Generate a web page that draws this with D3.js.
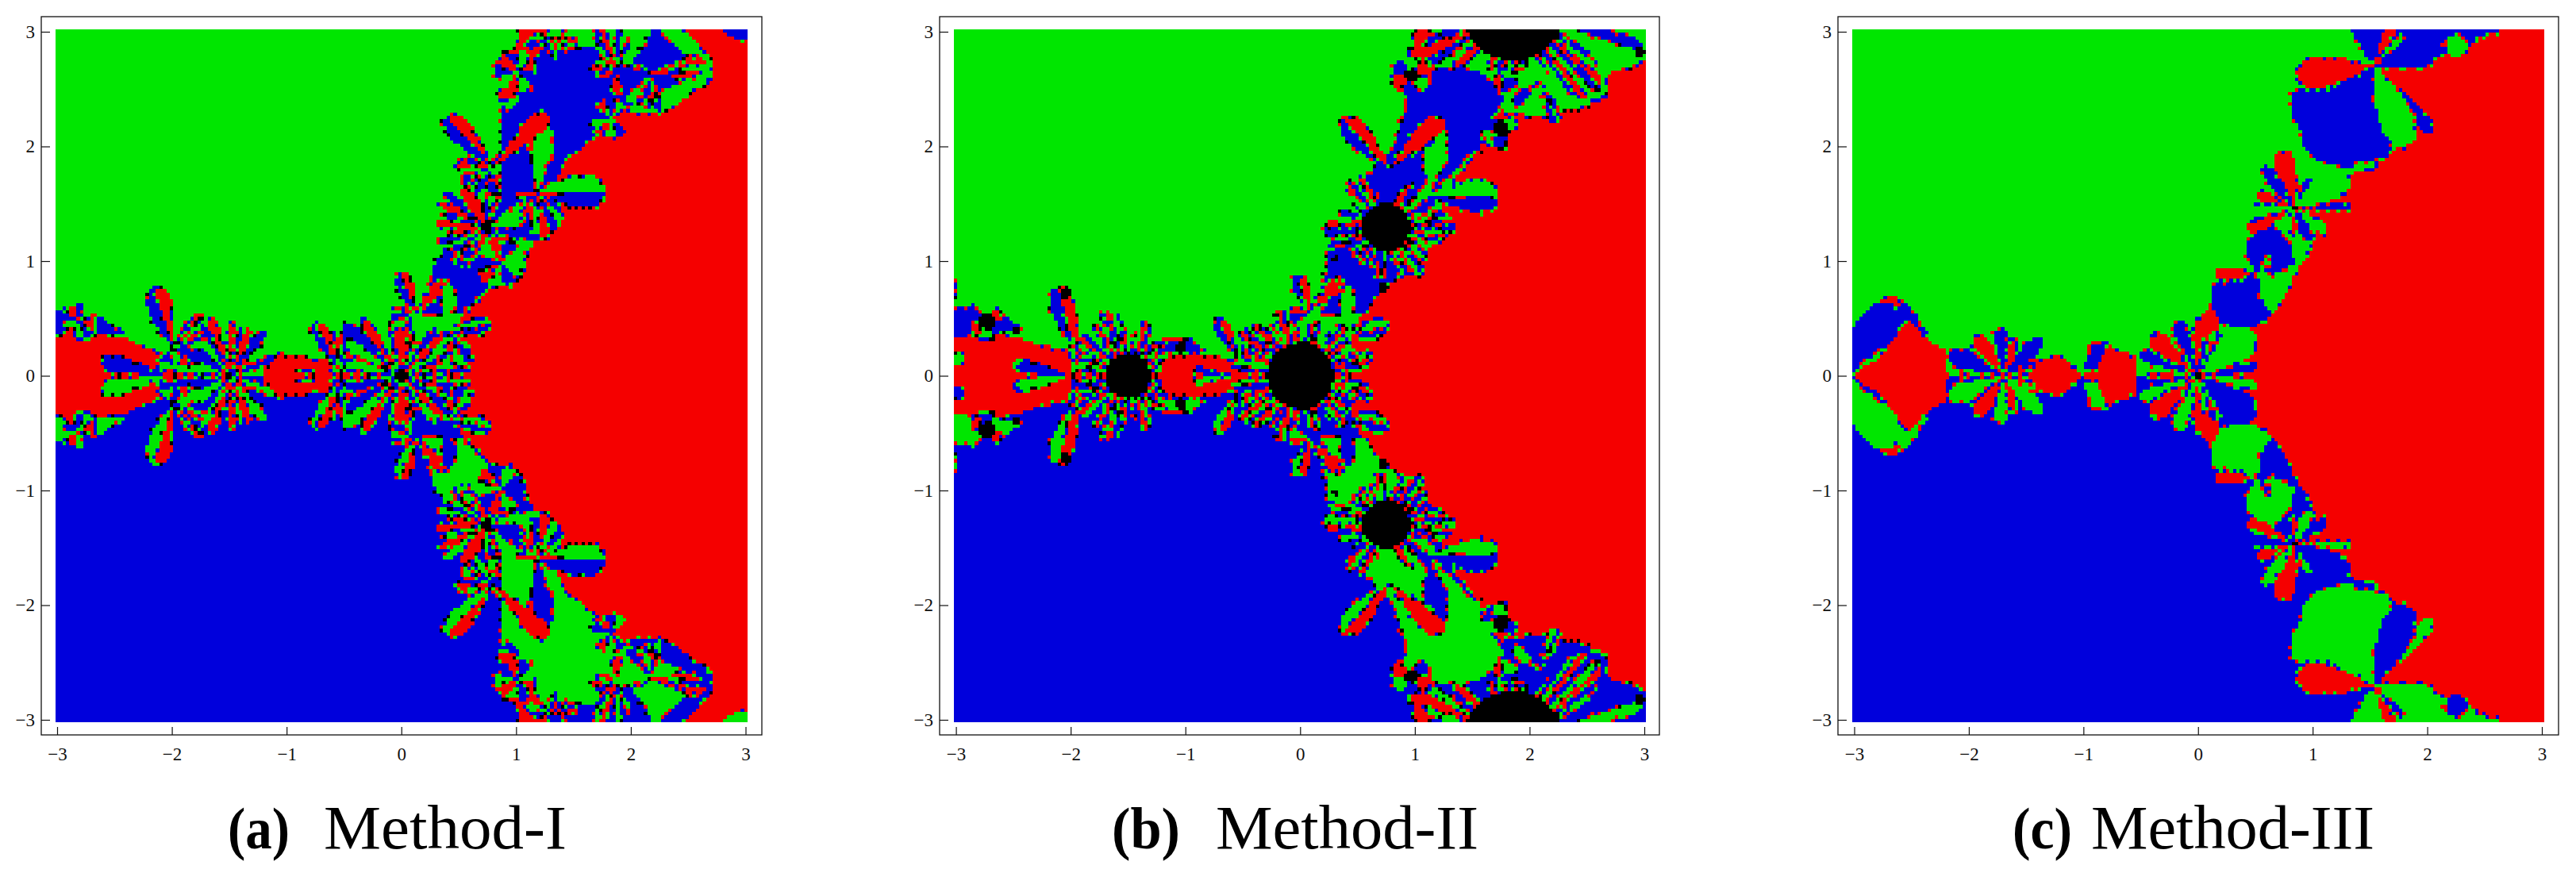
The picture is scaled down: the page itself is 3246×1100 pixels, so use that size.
<!DOCTYPE html>
<html><head><meta charset="utf-8">
<script src="https://cdn.jsdelivr.net/npm/d3@7/dist/d3.min.js"></script>
<style>html,body{margin:0;background:#fff}svg{display:block}</style></head>
<body><svg id="c" width="3246" height="1100"></svg>
<script>
// Values, upper half (y >= 0); the lower half of each basin plot is its mirror with green and blue swapped.
const tickValues = [-3,-2,-1,0,1,2,3];
const captions = [["(a)","Method-I"],["(b)","Method-II"],["(c)","Method-III"]];
const palette = {r:"#f50000", g:"#00e600", b:"#0000dc", k:"#000000"};

const regionsA = [
 ["b",[[.19,.55],[.28,.95],[.5,1.3],[.55,1.7],[.88,1.96],[.89,2.38],[.97,2.47],[1.16,2.77],[1.3,2.9],[1.7,2.85],[2,2.7],[2.2,3.02],[2.75,3.02],[2.75,2.7],[2,2.35],[1.72,2.1],[1.45,1.8],[1.25,1.65],[1,1.1],[.75,.75],[.55,.55]]],
 ["r",[[.4,0],[.4,.3],[.55,.55],[.77,.76],[1.11,1.04],[1.25,1.5],[1.43,1.87],[1.8,2.17],[1.99,2.28],[2.33,2.31],[2.73,2.6],[2.73,2.75],[2.4,3.02],[3.02,3.02],[3.02,0]]],
 ["g",[[2.45,3.02],[2.73,2.75],[2.7,2.65],[2.57,2.68],[2.27,3.0],[2.3,3.02]]],
 ["b",[[2.77,3.02],[2.85,2.95],[3.02,2.92],[3.02,3.02]]],
 ["r",[[1.03,3.02],[1,2.82],[1.16,2.77],[1.25,2.9],[1.3,3.02]]],
 ["r",[[-3.02,0],[-3.02,.36],[-2.62,.37],[-2.39,.32],[-2.17,.23],[-2.03,.21],[-2,0]]],
 ["b",[[-3.02,.36],[-3.02,.58],[-2.88,.6],[-2.65,.53],[-2.39,.37],[-2.62,.37]]],
 ["r",[[-1.2,0],[-1.2,.16],[-1.05,.2],[-.85,.17],[-.6,.14],[-.6,0]]]
];
const fansA = [
 [-2.8,.47,[[0,360,.15,"rgbrbgrgbr"]]],
 [-2,0,[[158,178,.62,"b"],[177,180,.62,"r"]]],
 [-1.98,.22,[[-30,10,.35,"b"],[20,70,.42,"brgrb"],[88,127,.58,"rb"]]],
 [-1.98,.08,[[0,360,.13,"rgbgrbg"]]],
 [-1.5,0,[[3,15,.3,"g"],[15,30,.42,"b"],[30,45,.42,"g"],[45,60,.5,"b"],[60,72,.45,"r"],[72,80,.45,"b"],[80,92,.48,"r"],[92,100,.48,"g"],[100,112,.52,"r"],[112,122,.5,"b"],[122,135,.4,"g"],[135,155,.32,"b"],[155,170,.3,"g"],[170,177,.3,"b"],[177,180,.45,"r"],[0,3,.3,"r"]]],
 [-.55,.05,[[100,130,.46,"rb"]]],
 [-.5,.06,[[70,112,.42,"rbgb"]]],
 [-.55,0,[[168,177,.36,"b"],[177,180,.36,"r"]]],
 [0,0,[[3,9,.63,"b"],[9,20,.65,"g"],[20,27,.5,"b"],[27,38,.45,"g"],[38,50,.5,"r"],[50,60,.5,"b"],[60,70,.45,"g"],[70,78,.4,"b"],[78,100,.52,"r"],[100,108,.5,"b"],[108,118,.55,"g"],[118,130,.6,"r"],[130,143,.63,"b"],[143,155,.55,"g"],[155,162,.5,"r"],[160,172,.5,"g"],[172,177,.5,"b"],[177,180,.9,"r"],[0,3,.3,"r"]]],
 [.11,.555,[[85,130,.36,"rb"],[30,58,.42,"r"],[150,260,.2,"rbgb"]]],
 [.42,.38,[[-8,35,.37,"bg"],[75,105,.42,"g"],[-95,-30,.32,"rgbg"],[180,250,.2,"brg"]]],
 [.743,1.293,[[-16,-2,.58,"b"],[-2,40,.55,"g"],[50,65,.4,"b"],[65,75,.38,"r"],[75,90,.3,"g"],[95,135,.42,"r"],[135,145,.48,"b"],[145,158,.45,"r"],[158,168,.42,"b"],[168,180,.45,"r"],[180,215,.42,"rbg"],[215,250,.43,"rgbgr"],[250,290,.3,"rgb"],[290,340,.5,"bgrg"]]],
 [.86,.99,[[0,360,.22,"gbrgbrgbg"]]],
 [1.18,1.61,[[-25,25,.6,"bg"],[-125,-30,.4,"rbgrbgb"],[64,100,.58,"g"],[150,210,.2,"br"]]],
 [.8,1.82,[[115,150,.6,"rb"],[35,55,.66,"r"],[150,215,.33,"rbrgbg"],[215,260,.3,"gbr"]]],
 [.87,1.75,[[0,360,.1,"bgrb"]]],
 [1,2.65,[[0,360,.19,"rgbrbgrgb"]]],
 [.93,2.42,[[0,360,.09,"rg"]]],
 [1.83,2.24,[[0,360,.17,"rgbrbgrgbr"]]],
 [2.16,2.64,[[-100,-60,.36,"bgbr"],[-10,30,.5,"rgrb"],[120,200,.15,"grb"],[200,255,.32,"bg"]]],
 [1.87,2.68,[[58,137,.4,"rgbgrbg"],[130,230,.2,"rgrgb"],[-100,-70,.25,"r"]]],
 [1.366,2.95,[[170,220,.28,"gbr"],[230,310,.19,"grbr"],[-30,60,.2,"rgb"]]]
];
const discsA = [[0,0,.05],[-1.5,0,.04],[.743,1.293,.05],[1.18,1.61,.02],[.8,1.82,.015],[2.16,2.64,.02],[-1.98,.22,.02]];

const regionsB = [
 ["b",[[.19,.55],[.24,1.06],[.5,1.3],[.55,1.7],[.82,1.98],[.96,2.49],[1.07,2.61],[1.26,2.75],[1.6,2.63],[1.79,2.42],[1.7,2.26],[1.56,1.98],[1.26,1.71],[1,1.1],[.75,.75],[.55,.55]]],
 ["r",[[.45,0],[.45,.4],[.6,.6],[.75,.77],[1.1,1.05],[1.2,1.3],[1.25,1.6],[1.56,1.98],[1.7,2.26],[1.85,2.3],[2.1,2.25],[2.5,2.35],[2.69,2.47],[2.69,2.63],[2.9,2.7],[3.02,2.75],[3.02,0]]],
 ["g",[[1.79,2.54],[2.02,2.49],[1.97,2.28],[1.77,2.28]]],
 ["r",[[.95,2.72],[1,3],[1.2,3.02],[1.2,2.75]]],
 ["r",[[-3.02,0],[-3.02,.33],[-2.65,.38],[-2.3,.28],[-2,.22],[-2,0]]],
 ["b",[[-3.02,.33],[-3.02,.58],[-2.85,.62],[-2.6,.55],[-2.4,.39],[-2.65,.38]]],
 ["b",[[-3.02,.7],[-2.99,.7],[-2.99,.84],[-3.02,.84]]],
 ["b",[[-1.24,.2],[-1.15,.33],[-.95,.33],[-.8,.2]]],
 ["r",[[-1.2,0],[-1.2,.16],[-.9,.2],[-.56,.14],[-.56,0]]]
];
const fansB = [
 [-2.98,.15,[[0,360,.06,"g"]]],
 [-2.73,.47,[[0,360,.15,"rgbrgb"]]],
 [-2,0,[[158,178,.48,"b"],[177,180,.6,"r"]]],
 [-1.95,.21,[[88,125,.6,"rb"],[-60,10,.3,"rgb"]]],
 [-1.5,0,[[0,5,.6,"r"],[5,30,.29,"rgbrgb"],[30,55,.46,"rbgrb"],[55,85,.5,"gbrgb"],[90,130,.62,"rbgrbgrb"],[130,160,.6,"gbrgbr"],[150,180,.52,"rgbrgbr"],[176,180,.55,"r"]]],
 [-.54,.15,[[100,135,.4,"rb"]]],
 [-.55,0,[[165,178,.38,"b"],[177,180,.38,"r"]]],
 [0,0,[[0,32,.66,"rgbrgbrgb"],[32,60,.6,"rbgrbgr"],[85,125,.6,"gbrgbrgbr"],[115,170,.63,"rgbrgbrgbrgb"],[165,180,.6,"gbr"],[60,85,.5,"gbrg"]]],
 [.08,.56,[[85,130,.34,"rb"],[30,58,.42,"r"],[150,260,.18,"rbg"]]],
 [.42,.36,[[-8,35,.37,"bg"],[75,105,.42,"g"]]],
 [.75,1.293,[[-25,25,.6,"rgbrgbrgbrg"],[-80,-25,.52,"rgbrgbrgbr"],[-120,-80,.45,"gbrgb"],[150,220,.53,"rbgrbgrbg"],[100,150,.52,"gbrgbrgb"],[220,240,.4,"gbr"],[25,70,.5,"bgbr"]]],
 [1.13,1.57,[[-25,25,.6,"bg"],[62,100,.6,"g"]]],
 [.77,1.8,[[113,150,.6,"rb"],[33,55,.65,"r"]]],
 [.97,2.61,[[0,360,.17,"rgbrbg"]]],
 [1.75,2.15,[[0,360,.16,"grbgbr"]]],
 [1.2,2.75,[[30,90,.32,"gbrgb"]]],
 [1.857,3.196,[[-175,-125,.85,"rgbrbgrb"],[-125,-65,.62,"rgbrgbrgbrgbrgb"],[-65,-25,1.03,"rgbrgbrgbr"],[-25,-12,1.2,"gb"],[-12,-4,1.28,"g"],[-4,2,1.3,"r"]]],
 [2.09,2.56,[[-85,-50,.4,"gbgr"],[-160,-100,.3,"bg"]]],
 [1.79,2.58,[[0,360,.1,"grb"]]]
];
const discsB = [[0,0,.29],[-1.5,0,.195],[.75,1.293,.21],[1.857,3.196,.45],[.97,2.61,.06],[1.75,2.15,.07],[.73,.77,.04],[.31,1.02,.03],[1.58,1.94,.02],[2.58,2.5,.03],[2.96,2.82,.04],[-2.73,.47,.07],[-2.48,.39,.03],[-2.04,.72,.05],[-1.04,.245,.05]];

const regionsC = [
 ["r",[[.3,0],[.35,.3],[.5,.5],[.72,.62],[.85,.9],[1,1.1],[1.1,1.7],[1.5,1.8],[1.9,2.1],[1.9,2.3],[1.6,2.65],[2.6,3.02],[3.02,3.02],[3.02,0]]],
 ["b",[[-3.02,.03],[-3.02,.4],[-2.91,.56],[-2.77,.66],[-2.6,.66],[-2.5,.6],[-2.36,.37],[-2.54,.4]]],
 ["r",[[-2.8,.66],[-2.7,.7],[-2.55,.66],[-2.6,.6]]],
 ["r",[[-3.02,0],[-3.02,.03],[-2.81,.13],[-2.64,.33],[-2.54,.49],[-2.45,.42],[-2.29,.26],[-2.2,.25],[-2.2,.05],[-2.15,0]]],
 ["r",[[-1.47,0],[-1.45,.14],[-1.2,.18],[-1.06,.07],[-1.03,0]]],
 ["b",[[-1,.05],[-.92,.29],[-.8,.32],[-.79,.27],[-.88,.07]]],
 ["r",[[-1.02,0],[-.88,.07],[-.79,.27],[-.65,.21],[-.53,.17],[-.53,0]]],
 ["b",[[.13,.8],[.51,.88],[.72,.62],[.63,.51],[.42,.39],[.2,.46],[.13,.58]]],
 ["b",[[.45,1.26],[.42,1.08],[.49,.92],[.65,.89],[.86,.99],[.86,1.06],[.81,1.18],[.7,1.3]]],
 ["g",[[.83,1.18],[.99,1.15],[.96,1.06],[.88,1.04],[.81,1]]],
 ["b",[[.83,2.49],[.81,2.28],[.92,2.1],[.9,2.03],[1.02,1.89],[1.32,1.8],[1.41,1.88],[1.66,1.89],[1.71,2.03],[1.52,2.7]]],
 ["b",[[1.33,3.02],[1.46,2.79],[1.536,2.7],[1.78,2.68],[2,2.7],[2.15,2.81],[2.33,2.84],[2.47,2.95],[2.66,3.02]]]
];
const fansC = [
 [-1.69,0,[[3,15,.22,"b"],[5,40,.3,"gbr"],[30,60,.45,"b"],[60,85,.35,"r"],[85,105,.42,"b"],[105,112,.3,"g"],[110,140,.45,"r"],[140,175,.52,"b"],[170,177,.35,"g"],[177,180,.4,"r"]]],
 [0,0,[[3,15,.53,"b"],[15,58,.62,"g"],[58,100,.57,"r"],[58,66,.42,"b"],[66,74,.42,"g"],[74,82,.38,"b"],[100,120,.5,"b"],[120,128,.5,"g"],[128,150,.54,"r"],[150,166,.54,"b"],[166,176,.5,"g"],[176,180,.45,"r"],[0,3,.3,"r"]]],
 [.53,.89,[[165,195,.38,"r"],[-85,-50,.36,"g"],[35,75,.18,"g"]]],
 [.844,1.466,[[-5,8,.5,"b"],[8,58,.57,"g"],[58,70,.3,"b"],[70,82,.3,"g"],[82,92,.3,"r"],[85,120,.52,"r"],[115,140,.45,"b"],[140,150,.3,"g"],[150,170,.36,"r"],[170,180,.35,"b"],[185,225,.25,"g"],[195,215,.45,"r"],[225,255,.25,"g"],[255,280,.27,"r"],[-80,-50,.33,"b"],[-50,-25,.36,"g"],[-25,-5,.3,"r"]]],
 [1.536,2.7,[[-55,-42,.78,"b"],[-88,-45,.75,"g"],[165,208,.68,"r"],[40,55,.38,"g"],[55,75,.36,"r"]]],
 [2.26,2.88,[[0,360,.1,"g"]]]
];
const discsC = [[0,0,.03],[-1.69,0,.015],[.844,1.466,.02],[1.536,2.7,.008]];

const panels = [
 {regions:regionsA, fans:fansA, discs:discsA, frame:[52,960], plot:[70,942], ticks:[72,939.5], black:true, cap:[[287,78],[408,306]]},
 {regions:regionsB, fans:fansB, discs:discsB, frame:[1184,2091], plot:[1202,2074], ticks:[1204.6,2072], black:true, cap:[[1401,86],[1532,331]]},
 {regions:regionsC, fans:fansC, discs:discsC, frame:[2316,3224], plot:[2334,3206], ticks:[2336.5,3203], black:false, cap:[[2536,75],[2635,357]]}
];

const N = 200, half = 100;
const svg = d3.select("#c");
const SERIF = "'Liberation Serif','DejaVu Serif',serif";

function inFan(f, dx, dy) {
  const r = Math.hypot(dx, dy); if (r >= f[2]) return null;
  let a = Math.atan2(dy, dx) * 180 / Math.PI;
  while (a < f[0]) a += 360;
  while (a >= f[0] + 360) a -= 360;
  if (a > f[1]) return null;
  const span = f[1] - f[0];
  const t = (a - f[0]) / span;
  const pow = span < 25 ? .1 : .3;
  if (span < 360 && r >= f[2] * Math.pow(Math.sin(Math.PI * t), pow)) return null;
  return f[3][Math.min(f[3].length - 1, Math.floor(t * f[3].length))];
}
function sample(p, x, y) {
  for (const d of p.discs) if (Math.hypot(x - d[0], y - d[1]) < d[2]) return "k";
  for (let i = p.fans.length - 1; i >= 0; i--) {
    const fl = p.fans[i];
    for (let j = fl[2].length - 1; j >= 0; j--) {
      const c = inFan(fl[2][j], x - fl[0], y - fl[1]);
      if (c) return c;
    }
  }
  for (let i = p.regions.length - 1; i >= 0; i--)
    if (d3.polygonContains(p.regions[i][1], [x, y])) return p.regions[i][0];
  return "g";
}
const third = {rg:"b",gr:"b",rb:"g",br:"g",gb:"r",bg:"r"};
const mirror = {r:"r",g:"b",b:"g",k:"k"};

panels.forEach((p, pi) => {
  const x = d3.scaleLinear().domain([-3,3]).range(p.ticks);
  const y = d3.scaleLinear().domain([-3,3]).range([907,40]);
  const lim = (p.plot[1] - p.plot[0]) / 2 / ((p.ticks[1] - p.ticks[0]) / 6);
  const mid = (p.plot[0] + p.plot[1]) / 2;
  const cellX = d3.scaleLinear().domain([0,N]).range(p.plot);
  const cellY = d3.scaleLinear().domain([0,N]).range([910,37]);
  const cell = 2 * lim / N;
  const toX = i => x.invert(mid) + (i + .5 - half) * cell;
  const up = [];
  for (let j = 0; j < half; j++) { const row = [];
    for (let i = 0; i < N; i++) row.push(sample(p, toX(i), (j + .5) * cell));
    up.push(row); }
  // speckle along borders
  const out = up.map(r => r.slice());
  for (let j = 0; j < half; j++) for (let i = 0; i < N; i++) {
    const c = up[j][i]; if (c === "k") continue;
    const n = (i + 1 < N ? up[j][i + 1] : c), m = (j + 1 < half ? up[j + 1][i] : c);
    const o = n !== c && n !== "k" ? n : (m !== c && m !== "k" ? m : null);
    if (!o) continue;
    const h = (i * 5 + j * 3 + (i * j) % 7) % 8;
    if (h < 2) out[j][i] = third[c + o];
    else if (h === 2 && p.black) out[j][i] = "k";
  }
  const grid = [];
  for (let j = 0; j < half; j++) grid[half + j] = out[j];
  for (let j = 0; j < half; j++) grid[half - 1 - j] = out[j].map(c => mirror[c]);
  const g = svg.append("g").attr("shape-rendering","crispEdges");
  const paths = {r:[],g:[],b:[],k:[]};
  grid.forEach((row, j) => {
    let s = 0;
    for (let i = 1; i <= N; i++) if (i === N || row[i] !== row[s]) {
      paths[row[s]].push(`M${cellX(s)} ${cellY(j+1)}H${cellX(i)}V${cellY(j)}H${cellX(s)}Z`);
      s = i;
    }
  });
  Object.keys(paths).forEach(k => g.append("path").attr("d", paths[k].join("")).attr("fill", palette[k]));

  svg.append("rect").attr("x",p.frame[0]).attr("y",21).attr("width",p.frame[1]-p.frame[0]).attr("height",905)
    .attr("fill","none").attr("stroke","#111").attr("stroke-width",1.3);
  const fmt = d => String(d).replace("-", "\u2212");
  const ax = svg.append("g").attr("transform","translate(0,926)")
    .call(d3.axisBottom(x).tickValues(tickValues).tickFormat(fmt).tickSizeInner(-10).tickSizeOuter(0).tickPadding(16));
  const ay = svg.append("g").attr("transform",`translate(${p.frame[0]},0)`)
    .call(d3.axisLeft(y).tickValues(tickValues).tickFormat(fmt).tickSizeInner(-11).tickSizeOuter(0).tickPadding(8));
  [ax, ay].forEach(a => { a.select(".domain").remove();
    a.selectAll("line").attr("stroke","#111").attr("stroke-width",1.2);
    a.selectAll("text").attr("font-family",SERIF).attr("font-size",23).attr("fill","#111"); });

  const [c1, c2] = captions[pi];
  svg.append("text").text(c1).attr("x",p.cap[0][0]).attr("y",1069).attr("font-family",SERIF).attr("font-weight","bold")
    .attr("font-size",74).attr("textLength",p.cap[0][1]).attr("lengthAdjust","spacingAndGlyphs").attr("fill","#000");
  svg.append("text").text(c2).attr("x",p.cap[1][0]).attr("y",1069).attr("font-family",SERIF)
    .attr("font-size",79).attr("textLength",p.cap[1][1]).attr("lengthAdjust","spacingAndGlyphs").attr("fill","#000");
});
</script></body></html>
